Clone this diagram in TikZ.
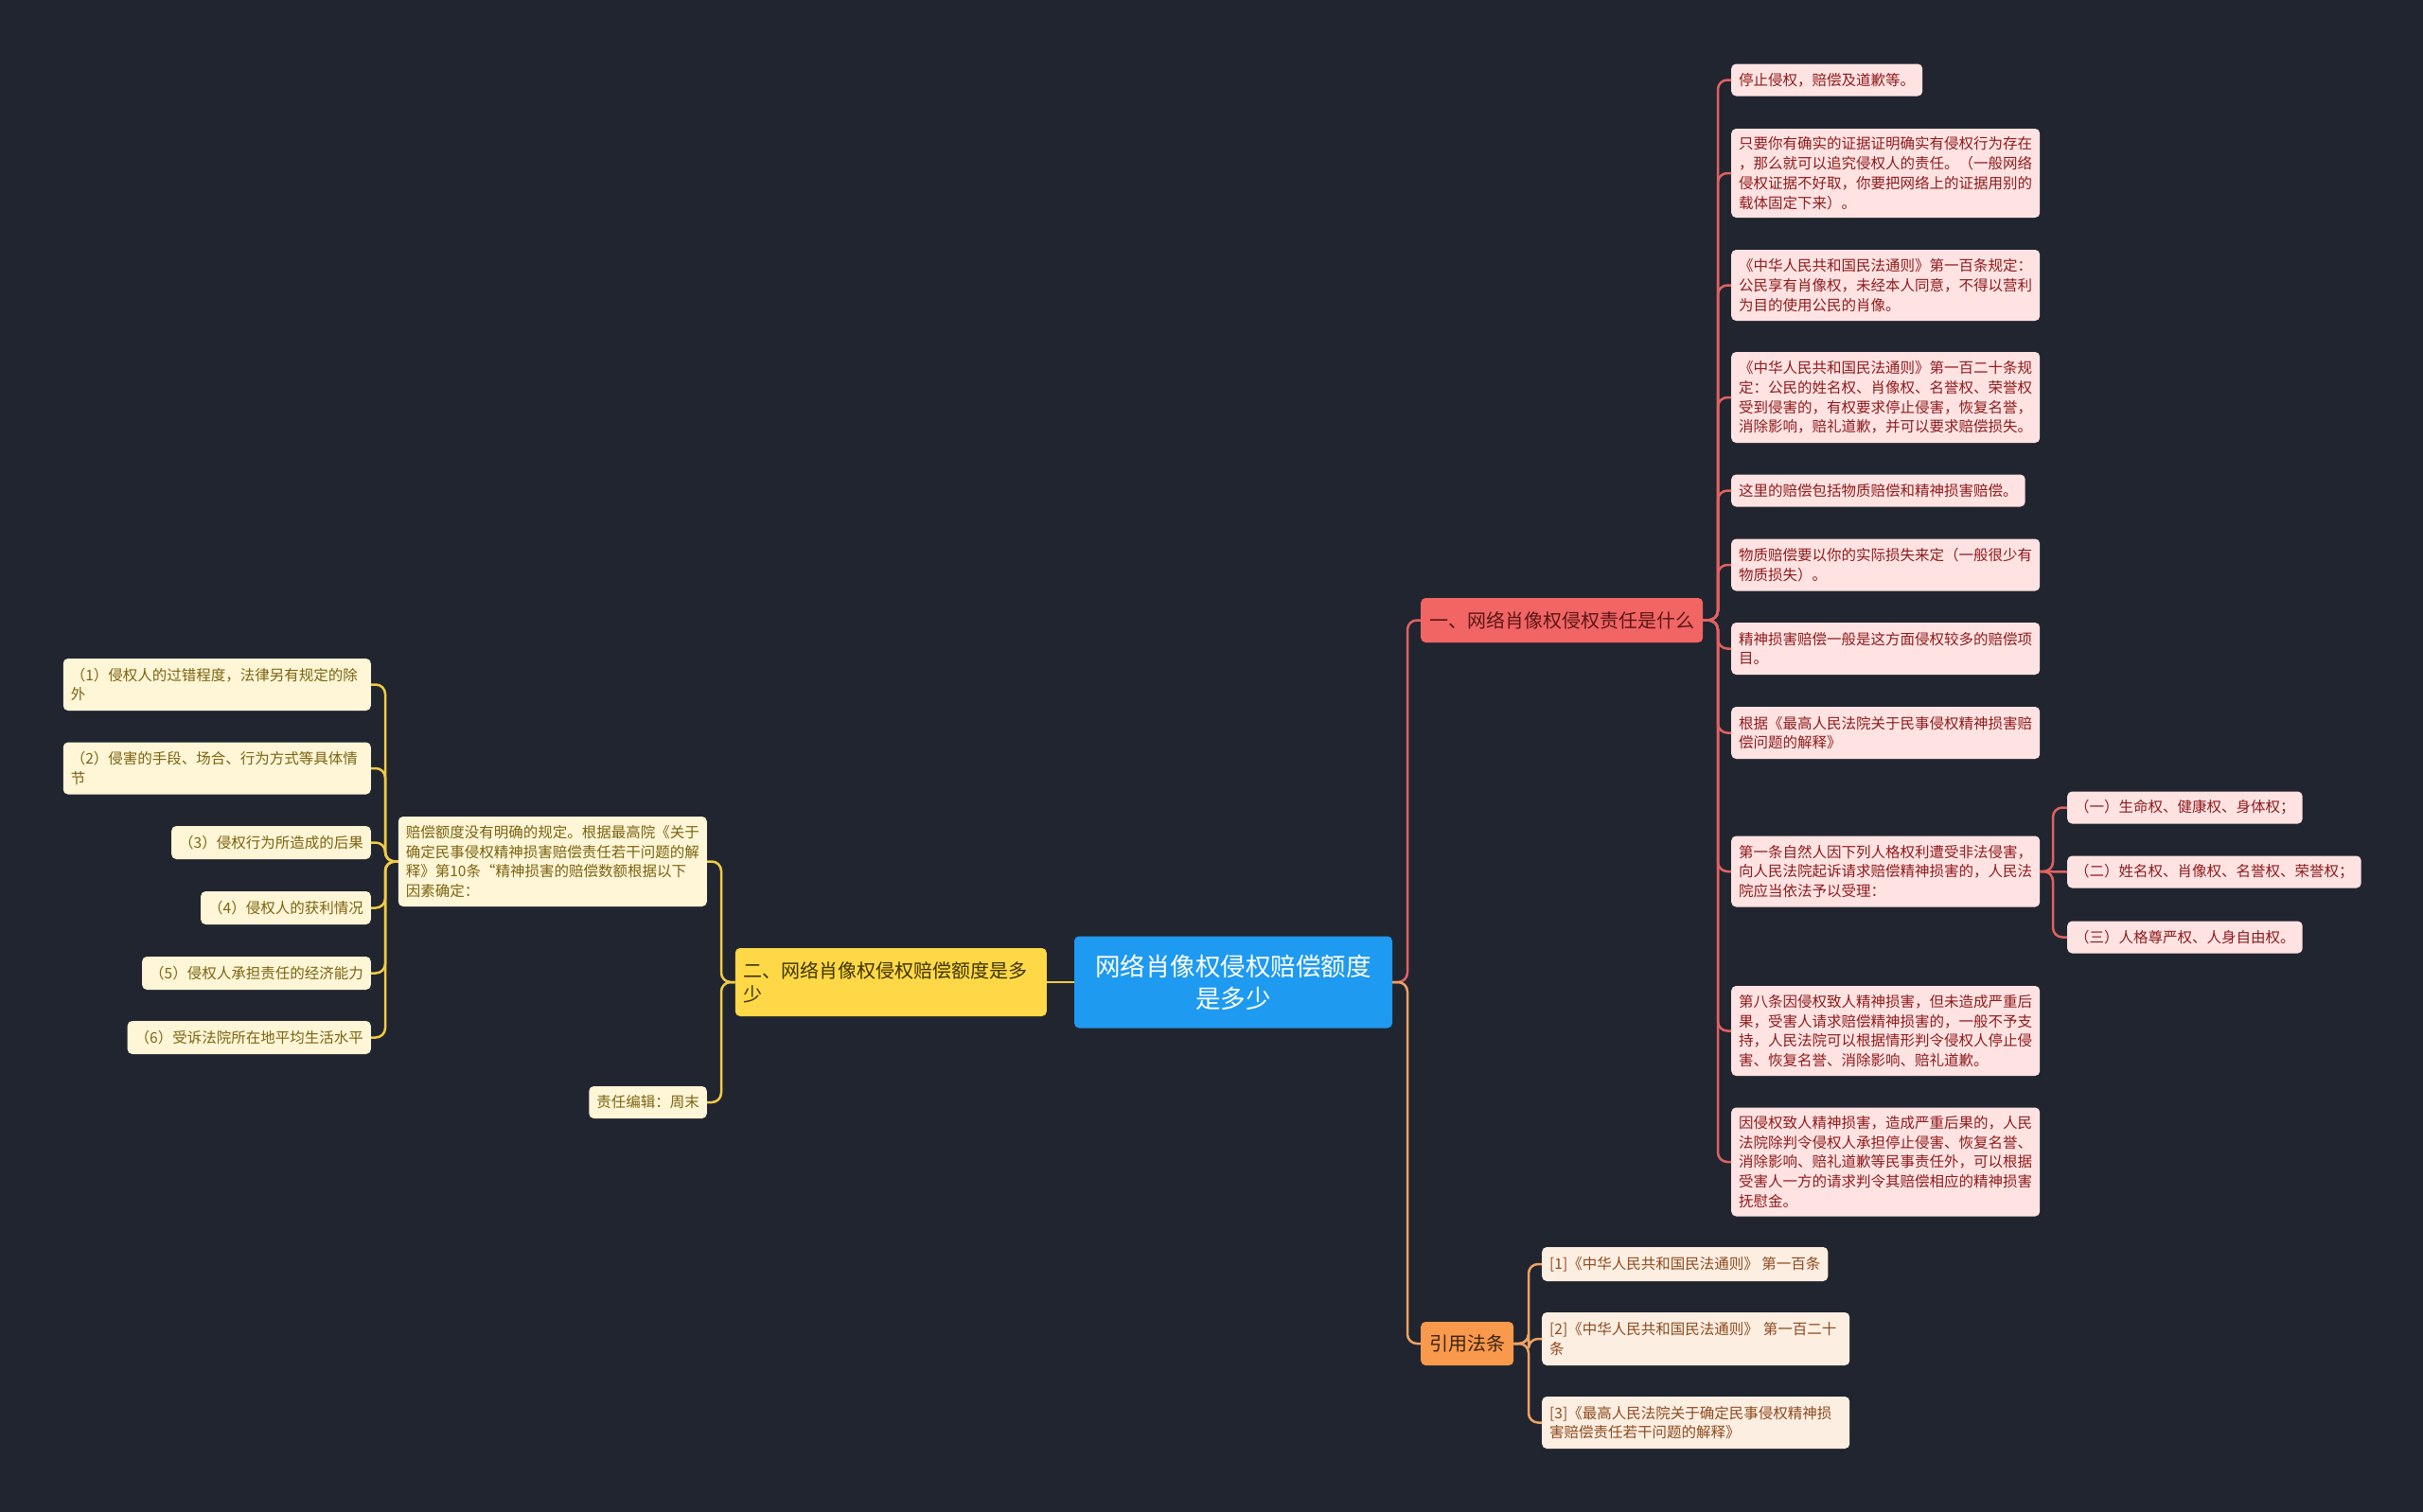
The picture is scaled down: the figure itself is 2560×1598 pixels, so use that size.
\documentclass[tikz,border=0pt]{standalone}
\usepackage{fontspec}
\newfontfamily\cjk{Noto Sans CJK SC}
\usetikzlibrary{calc}
\definecolor{Bg}{HTML}{21252F}
\definecolor{RootBlue}{HTML}{1E9AF0}
\definecolor{RedFill}{HTML}{F26565}
\definecolor{RedDark}{HTML}{5A1616}
\definecolor{RedLine}{HTML}{E06262}
\definecolor{RedLeaf}{HTML}{FFE3E3}
\definecolor{RedText}{HTML}{8E1C1C}
\definecolor{YelFill}{HTML}{FFD847}
\definecolor{YelDark}{HTML}{3C3300}
\definecolor{YelLine}{HTML}{F0CB45}
\definecolor{YelLeaf}{HTML}{FFF5D7}
\definecolor{YelText}{HTML}{7A6410}
\definecolor{OrgFill}{HTML}{F8994C}
\definecolor{OrgDark}{HTML}{3C2412}
\definecolor{OrgLine}{HTML}{EFA263}
\definecolor{OrgLeaf}{HTML}{FDEEE2}
\definecolor{OrgText}{HTML}{8C4B1E}

\begin{document}
\begin{tikzpicture}[x=1pt, y=-1pt,
    box/.style={rounded corners=5pt, inner xsep=8pt, inner ysep=0pt,
        font=\cjk\fontsize{15.5}{20.8}\selectfont, align=left},
    branch/.style={rounded corners=5pt, inner xsep=9pt, inner ysep=0pt,
        font=\cjk\fontsize{20}{25}\selectfont, align=left},
    redleaf/.style={box, fill=RedLeaf, text=RedText, anchor=west},
    orgleaf/.style={box, fill=OrgLeaf, text=OrgText, anchor=west},
    yelleaf/.style={box, fill=YelLeaf, text=YelText, anchor=east},
    rededge/.style={RedLine, line width=2.5pt, rounded corners=10pt},
    yeledge/.style={YelLine, line width=2.5pt, rounded corners=10pt},
    orgedge/.style={OrgLine, line width=2.5pt, rounded corners=10pt}]
\useasboundingbox (0,0) rectangle (2560,1598);
\fill[Bg] (0,0) rectangle (2560,1598);

% centre
\node[fill=RootBlue, text=white, rounded corners=5pt, minimum width=336pt,
    minimum height=97pt, font=\cjk\fontsize{26.5}{34}\selectfont, align=center]
    (root) at (1303,1038) {网络肖像权侵权赔偿额度\\是多少};

% branches
\node[branch, fill=RedFill, text=RedDark, minimum height=47pt, anchor=west]
    (br-red) at (1501,655.5) {一、网络肖像权侵权责任是什么};
\node[branch, fill=YelFill, text=YelDark, text width=311pt, minimum height=72pt, anchor=east]
    (br-yel) at (1106,1038) {二、网络肖像权侵权赔偿额度是多\\少};
\node[branch, fill=OrgFill, text=OrgDark, minimum height=46pt, anchor=west]
    (br-org) at (1501,1420) {引用法条};

% red leaves
\node[redleaf, minimum height=34pt] (red-leaf1) at (1829,84.5) {停止侵权，赔偿及道歉等。};
\node[redleaf, minimum height=94pt] (red-leaf2) at (1829,183) {只要你有确实的证据证明确实有侵权行为存在\\，那么就可以追究侵权人的责任。（一般网络\\侵权证据不好取，你要把网络上的证据用别的\\载体固定下来）。};
\node[redleaf, minimum height=75pt] (red-leaf3) at (1829,301.5) {《中华人民共和国民法通则》第一百条规定：\\公民享有肖像权，未经本人同意，不得以营利\\为目的使用公民的肖像。};
\node[redleaf, minimum height=96pt] (red-leaf4) at (1829,420) {《中华人民共和国民法通则》第一百二十条规\\定：公民的姓名权、肖像权、名誉权、荣誉权\\受到侵害的，有权要求停止侵害，恢复名誉，\\消除影响，赔礼道歉，并可以要求赔偿损失。};
\node[redleaf, minimum height=34pt] (red-leaf5) at (1829,518.5) {这里的赔偿包括物质赔偿和精神损害赔偿。};
\node[redleaf, minimum height=55pt] (red-leaf6) at (1829,597) {物质赔偿要以你的实际损失来定（一般很少有\\物质损失）。};
\node[redleaf, minimum height=55pt] (red-leaf7) at (1829,685.5) {精神损害赔偿一般是这方面侵权较多的赔偿项\\目。};
\node[redleaf, minimum height=55pt] (red-leaf8) at (1829,774.5) {根据《最高人民法院关于民事侵权精神损害赔\\偿问题的解释》};
\node[redleaf, minimum height=75pt] (red-leaf9) at (1829,921) {第一条自然人因下列人格权利遭受非法侵害，\\向人民法院起诉请求赔偿精神损害的，人民法\\院应当依法予以受理：};
\node[redleaf, minimum height=95pt] (red-leaf10) at (1829,1089.5) {第八条因侵权致人精神损害，但未造成严重后\\果，受害人请求赔偿精神损害的，一般不予支\\持，人民法院可以根据情形判令侵权人停止侵\\害、恢复名誉、消除影响、赔礼道歉。};
\node[redleaf, minimum height=115pt] (red-leaf11) at (1829,1228) {因侵权致人精神损害，造成严重后果的，人民\\法院除判令侵权人承担停止侵害、恢复名誉、\\消除影响、赔礼道歉等民事责任外，可以根据\\受害人一方的请求判令其赔偿相应的精神损害\\抚慰金。};

% rights under leaf 9
\node[redleaf, minimum height=34pt] (right-1) at (2184,853.5) {（一）生命权、健康权、身体权；};
\node[redleaf, minimum height=34pt] (right-2) at (2184,921.5) {（二）姓名权、肖像权、名誉权、荣誉权；};
\node[redleaf, minimum height=34pt] (right-3) at (2184,990.5) {（三）人格尊严权、人身自由权。};

% cited articles
\node[orgleaf, minimum height=36pt] (org-leaf1) at (1629,1336) {[1]《中华人民共和国民法通则》 第一百条};
\node[orgleaf, minimum height=56pt, text width=309pt] (org-leaf2) at (1629,1415) {[2]《中华人民共和国民法通则》 第一百二十\\条};
\node[orgleaf, minimum height=55pt, text width=309pt] (org-leaf3) at (1629,1503.5) {[3]《最高人民法院关于确定民事侵权精神损\\害赔偿责任若干问题的解释》};

% yellow side
\node[yelleaf, minimum height=95pt] (yel-main) at (747,910.5) {赔偿额度没有明确的规定。根据最高院《关于\\确定民事侵权精神损害赔偿责任若干问题的解\\释》第10条“精神损害的赔偿数额根据以下\\因素确定：};
\node[yelleaf, minimum height=34pt] (yel-editor) at (747,1165) {责任编辑：周末};
\node[yelleaf, minimum height=55pt, text width=309pt] (factor-1) at (392,723.5) {（1）侵权人的过错程度，法律另有规定的除\\外};
\node[yelleaf, minimum height=55pt, text width=309pt] (factor-2) at (392,812) {（2）侵害的手段、场合、行为方式等具体情\\节};
\node[yelleaf, minimum height=35pt] (factor-3) at (392,890.5) {（3）侵权行为所造成的后果};
\node[yelleaf, minimum height=35pt] (factor-4) at (392,959.5) {（4）侵权人的获利情况};
\node[yelleaf, minimum height=35pt] (factor-5) at (392,1028.5) {（5）侵权人承担责任的经济能力};
\node[yelleaf, minimum height=35pt] (factor-6) at (392,1096.5) {（6）受诉法院所在地平均生活水平};

% trunks
\coordinate (root-trunk) at (1487,1038);
\coordinate (red-trunk) at (1815,655.5);
\coordinate (right-trunk) at (2169,921);
\coordinate (org-trunk) at (1615,1420);
\coordinate (yel-trunk) at (762,1038);
\coordinate (main-trunk) at (407,910.5);

\draw[rededge] (root.east) -- (root-trunk) |- (br-red.west);
\draw[orgedge] (root.east) -- (root-trunk) |- (br-org.west);
\draw[yeledge] (root.west) -- (br-yel.east);

\draw[rededge] (br-red.east) -- (red-trunk) |- (red-leaf1.west);
\draw[rededge] (br-red.east) -- (red-trunk) |- (red-leaf2.west);
\draw[rededge] (br-red.east) -- (red-trunk) |- (red-leaf3.west);
\draw[rededge] (br-red.east) -- (red-trunk) |- (red-leaf4.west);
\draw[rededge] (br-red.east) -- (red-trunk) |- (red-leaf5.west);
\draw[rededge] (br-red.east) -- (red-trunk) |- (red-leaf6.west);
\draw[rededge] (br-red.east) -- (red-trunk) |- (red-leaf7.west);
\draw[rededge] (br-red.east) -- (red-trunk) |- (red-leaf8.west);
\draw[rededge] (br-red.east) -- (red-trunk) |- (red-leaf9.west);
\draw[rededge] (br-red.east) -- (red-trunk) |- (red-leaf10.west);
\draw[rededge] (br-red.east) -- (red-trunk) |- (red-leaf11.west);

\draw[rededge] (red-leaf9.east) -- (right-trunk) |- (right-1.west);
\draw[rededge] (red-leaf9.east) -- (right-2.west);
\draw[rededge] (red-leaf9.east) -- (right-trunk) |- (right-3.west);

\draw[orgedge] (br-org.east) -- (org-trunk) |- (org-leaf1.west);
\draw[orgedge] (br-org.east) -- (org-trunk) |- (org-leaf2.west);
\draw[orgedge] (br-org.east) -- (org-trunk) |- (org-leaf3.west);

\draw[yeledge] (br-yel.west) -- (yel-trunk) |- (yel-main.east);
\draw[yeledge] (br-yel.west) -- (yel-trunk) |- (yel-editor.east);

\draw[yeledge] (yel-main.west) -- (main-trunk) |- (factor-1.east);
\draw[yeledge] (yel-main.west) -- (main-trunk) |- (factor-2.east);
\draw[yeledge] (yel-main.west) -- (main-trunk) |- (factor-3.east);
\draw[yeledge] (yel-main.west) -- (main-trunk) |- (factor-4.east);
\draw[yeledge] (yel-main.west) -- (main-trunk) |- (factor-5.east);
\draw[yeledge] (yel-main.west) -- (main-trunk) |- (factor-6.east);
\end{tikzpicture}
\end{document}
